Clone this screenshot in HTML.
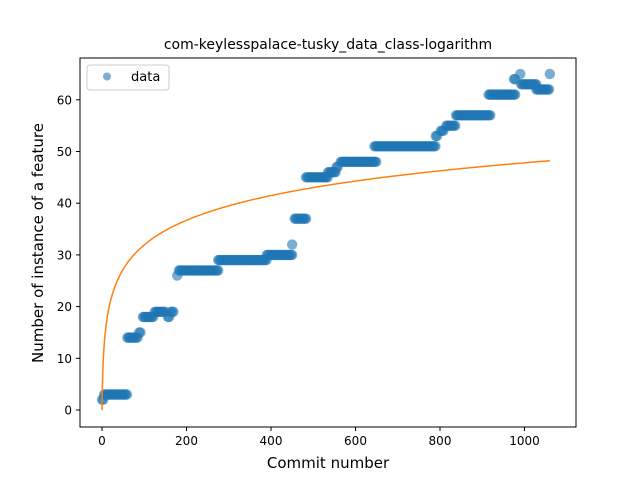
<!DOCTYPE html>
<html><head><meta charset="utf-8"><style>body{margin:0;background:#fff}svg text{font-family:"DejaVu Sans","Liberation Sans",sans-serif}</style></head>
<body>
<svg id="chart" width="640" height="480" viewBox="0 0 640 480">
<rect width="640" height="480" fill="#fff"/>
<text x="328" y="49" text-anchor="middle" font-size="14">com-keylesspalace-tusky_data_class-logarithm</text>
<g id="marks"></g>
<rect x="80" y="58" width="496" height="369" fill="none" stroke="#000" stroke-width="1"/>
<g id="axes"></g>
<text x="328" y="468" text-anchor="middle" font-size="15">Commit number</text>
<text transform="translate(43,243) rotate(-90)" text-anchor="middle" font-size="15">Number of instance of a feature</text>
<g>
<rect x="87" y="65" width="82" height="25" rx="3" fill="#fff" stroke="#ccc"/>
<circle cx="107" cy="76.5" r="4" fill="#1f77b4" fill-opacity="0.6"/>
<text x="131" y="81" font-size="13">data</text>
</g>
</svg>
<script>
const segStart = [0,5,60,88,97,125,156,163,178,182,275,390,450,456,483,535,555,565,645,790,802,815,838,915,975,990,992,1028,1060];
const segEnd   = [5,60,85,92,121,150,160,170,180,275,390,450,452,485,535,555,560,650,790,795,808,838,920,980,978,990,1030,1058,1060];
const segValue = [2,3,14,15,18,19,18,19,26,27,29,30,32,37,45,46,47,48,51,53,54,55,57,61,64,65,63,62,65];
const xTicks = [0,200,400,600,800,1000];
const yTicks = [0,10,20,30,40,50,60];
const fitCoef = 6.92;
const fitMax = 1060;
function xs(c){return 102 + c*0.4225;}
function ys(v){return 410 - v*5.17;}
const NS="http://www.w3.org/2000/svg";
const marks=document.getElementById('marks');
const axes=document.getElementById('axes');
for(let i=0;i<segValue.length;i++){
  for(let c=segStart[i]; c<=segEnd[i]; c+=3){
    const e=document.createElementNS(NS,'circle');
    e.setAttribute('cx',xs(c));e.setAttribute('cy',ys(segValue[i]));e.setAttribute('r',5.2);
    e.setAttribute('fill','#1f77b4');e.setAttribute('fill-opacity','0.6');
    
    
    marks.appendChild(e);
  }
}
let d='';
for(let c=0;c<=fitMax;c+= (c<20?0.5:5)){d+=(d?'L':'M')+xs(c).toFixed(2)+','+ys(fitCoef*Math.log(c+1)).toFixed(2);}
const fl=document.createElementNS(NS,'path');
fl.setAttribute('d',d);fl.setAttribute('fill','none');fl.setAttribute('stroke','#ff7f0e');fl.setAttribute('stroke-width','1.5');


marks.appendChild(fl);
xTicks.forEach(t=>{
  const l=document.createElementNS(NS,'line');
  l.setAttribute('x1',xs(t));l.setAttribute('x2',xs(t));l.setAttribute('y1',427);l.setAttribute('y2',431);l.setAttribute('stroke','#000');
  
  
  axes.appendChild(l);
  const tx=document.createElementNS(NS,'text');
  tx.setAttribute('x',xs(t));tx.setAttribute('y',445);tx.setAttribute('text-anchor','middle');tx.setAttribute('font-size','12');tx.textContent=t;
  
  
  axes.appendChild(tx);
});
yTicks.forEach(t=>{
  const l=document.createElementNS(NS,'line');
  l.setAttribute('x1',76);l.setAttribute('x2',80);l.setAttribute('y1',ys(t));l.setAttribute('y2',ys(t));l.setAttribute('stroke','#000');
  
  
  axes.appendChild(l);
  const tx=document.createElementNS(NS,'text');
  tx.setAttribute('x',72);tx.setAttribute('y',ys(t)+4.5);tx.setAttribute('text-anchor','end');tx.setAttribute('font-size','12');tx.textContent=t;
  
  
  axes.appendChild(tx);
});
</script>
</body></html>
